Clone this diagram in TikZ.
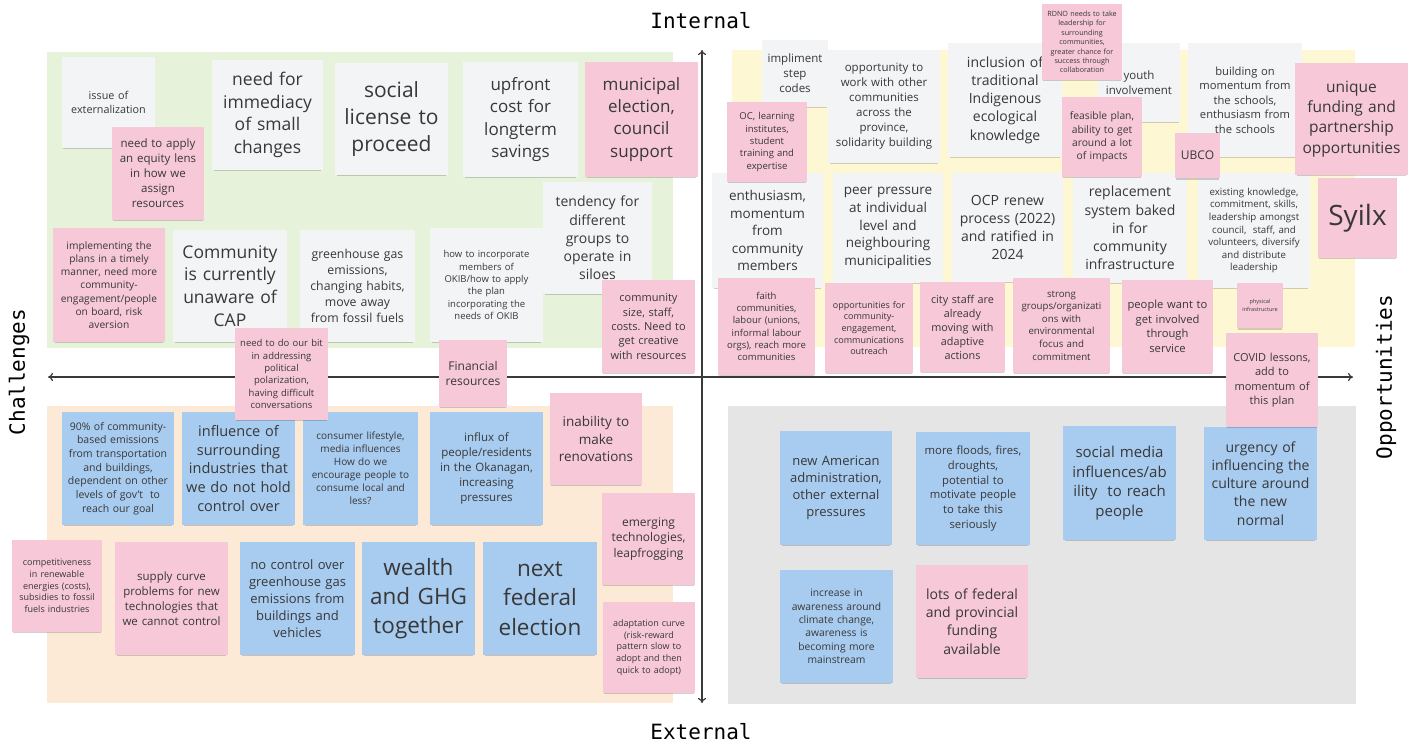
\documentclass[tikz,border=0pt]{standalone}
\usepackage{fontspec}
\setmainfont{Open Sans}
\newfontfamily\axisfont{DejaVu Sans Mono}
\usetikzlibrary{arrows.meta,shadows}
\frenchspacing
\definecolor{wnote}{HTML}{F3F4F6}
\definecolor{pnk}{HTML}{F7C8D8}
\definecolor{blu}{HTML}{A8CBF0}
\definecolor{bggreen}{HTML}{E6F2D9}
\definecolor{bgyellow}{HTML}{FDF8D3}
\definecolor{bgpeach}{HTML}{FCEAD7}
\definecolor{bggray}{HTML}{E5E5E5}
\definecolor{axc}{HTML}{3A3A3A}
\definecolor{txt}{HTML}{383838}
\tikzset{
  note/.style={rectangle, inner xsep=3pt, inner ysep=2pt, align=center, text=txt,
    drop shadow={shadow xshift=0pt, shadow yshift=-2.5pt, shadow scale=0.97, opacity=0.18, fill=black}},
  stk/.style n args={4}{note, fill=#1, minimum width=#2, minimum height=#3, text width=#2-6,
    font={\pgfmathsetmacro\bsk{#4*1.3}\fontsize{#4}{\bsk}\selectfont}},
  axisline/.style={draw=axc, line width=1.2pt, arrows={To[length=5pt,width=8pt]-To[length=5pt,width=8pt]}},
  axislabel/.style={font=\axisfont\fontsize{21}{24}\selectfont, text=black, inner sep=0pt},
}
\begin{document}
\begin{tikzpicture}[x=1pt,y=-1pt]
\useasboundingbox (0,0) rectangle (1420,747);
\fill[white] (0,0) rectangle (1420,747);
% quadrant backgrounds
\fill[bggreen] (47,52) rectangle (673,348);
\fill[bgyellow] (732,50) rectangle (1355,347);
\fill[bgpeach] (47,406) rectangle (673,703);
\fill[bggray] (728,406) rectangle (1356,704);
% axes
\coordinate (L) at (48,377);
\coordinate (R) at (1353,377);
\coordinate (T) at (702,50);
\coordinate (B) at (702,703);
\draw[axisline] (L) -- (R);
\draw[axisline] (B) -- (T);
\node[axislabel] (lint) at (701,21) {Internal};
\node[axislabel] (lext) at (701,732) {External};
\node[axislabel, rotate=90] (lch) at (19,372) {Challenges};
\node[axislabel, rotate=90] (lop) at (1386,377) {Opportunities};
% ---------- white notes ----------
\node[stk={wnote}{93}{91}{10.8}] (n1) at (108.5,102.5) {issue of\\externalization};
\node[stk={wnote}{111}{110}{17.5}] (n3) at (267.5,115) {need for\\immediacy\\of small\\changes};
\node[stk={wnote}{113}{112}{21}] (n4) at (391.5,119) {social\\license to\\proceed};
\node[stk={wnote}{115}{115}{17}] (n5) at (520.5,119.5) {upfront\\cost for\\longterm\\savings};
\node[stk={wnote}{109}{112}{14}] (n7) at (597.5,238) {tendency for\\different\\groups to\\operate in\\siloes};
\node[stk={wnote}{114}{112}{17.5}] (n10) at (230,286) {Community\\is currently\\unaware of\\CAP};
\node[stk={wnote}{115}{112}{12.3}] (n11) at (357.5,286) {greenhouse gas\\emissions,\\changing habits,\\move away\\from fossil fuels};
\node[stk={wnote}{113}{114}{9.5}] (n12) at (486.5,285) {how to incorporate\\members of\\OKIB/how to apply\\the plan\\incorporating the\\needs of OKIB};
\node[stk={wnote}{66}{67}{11.5}] (n27) at (795,73.5) {impliment\\step\\codes};
\node[stk={wnote}{112}{113}{11.5}] (n29) at (884,106.5) {opportunity to\\work with other\\communities\\across the\\province,\\solidarity building};
\node[stk={wnote}{114}{114}{14}] (n30) at (1005,100) {inclusion of\\traditional\\Indigenous\\ecological\\knowledge};
\node[stk={wnote}{82}{79}{11.5}] (n32) at (1139,82.5) {youth\\involvement};
\node[stk={wnote}{114}{114}{11.2}] (n34) at (1245,100) {building on\\momentum from\\the schools,\\enthusiasm from\\the schools};
\node[stk={wnote}{111}{115}{13.5}] (n38) at (767.5,230.5) {enthusiasm,\\momentum\\from\\community\\members};
\node[stk={wnote}{110}{110}{13.5}] (n39) at (888,228) {peer pressure\\at individual\\level and\\neighbouring\\municipalities};
\node[stk={wnote}{111}{109}{14}] (n40) at (1007.5,227.5) {OCP renew\\process (2022)\\and ratified in\\2024};
\node[stk={wnote}{114}{110}{14}] (n41) at (1130,228) {replacement\\system baked\\in for\\community\\infrastructure};
\node[stk={wnote}{112}{115}{9.7}] (n42) at (1254,230.5) {existing knowledge,\\commitment, skills,\\leadership amongst\\council,\ \ staff, and\\volunteers, diversify\\and distribute\\leadership};
% ---------- blue notes ----------
\node[stk={blu}{112}{113}{10.5}] (n15) at (118,468.5) {90\% of community-\\based emissions\\from transportation\\and buildings,\\dependent on other\\levels of gov't\ \ to\\reach our goal};
\node[stk={blu}{113}{113}{14.5}] (n16) at (238.5,468.5) {influence of\\surrounding\\industries that\\we do not hold\\control over};
\node[stk={blu}{115}{113}{10}] (n17) at (360.5,468.5) {consumer lifestyle,\\media influences\\How do we\\encourage people to\\consume local and\\less?};
\node[stk={blu}{113}{113}{11.5}] (n18) at (486.5,468.5) {influx of\\people/residents\\in the Okanagan,\\increasing\\pressures};
\node[stk={blu}{115}{113}{13}] (n24) at (297.5,598.5) {no control over\\greenhouse gas\\emissions from\\buildings and\\vehicles};
\node[stk={blu}{113}{113}{22.5}] (n25) at (418.5,598.5) {wealth\\and GHG\\together};
\node[stk={blu}{114}{113}{22.5}] (n26) at (540,598.5) {next\\federal\\election};
\node[stk={blu}{112}{114}{13}] (n50) at (836,488) {new American\\administration,\\other external\\pressures};
\node[stk={blu}{114}{113}{11.3}] (n51) at (973,488.5) {more floods, fires,\\droughts,\\potential to\\motivate people\\to take this\\seriously};
\node[stk={blu}{113}{114}{15}] (n52) at (1119.5,483) {social media\\influences/ab\\ility\ \ to reach\\people};
\node[stk={blu}{113}{113}{14}] (n53) at (1260.5,483.5) {urgency of\\influencing the\\culture around\\the new\\normal};
\node[stk={blu}{113}{113}{10.3}] (n54) at (836.5,626.5) {increase in\\awareness around\\climate change,\\awareness is\\becoming more\\mainstream};
% ---------- pink notes ----------
\node[stk={pnk}{92}{93}{11.5}] (n2) at (158,173.5) {need to apply\\an equity lens\\in how we\\assign\\resources};
\node[stk={pnk}{113}{115}{17}] (n6) at (641.5,119.5) {municipal\\election,\\council\\support};
\node[stk={pnk}{93}{93}{11}] (n8) at (648.5,326.5) {community\\size, staff,\\costs. Need to\\get creative\\with resources};
\node[stk={pnk}{112}{114}{10.2}] (n9) at (109,285) {implementing the\\plans in a timely\\manner, need more\\community-\\engagement/people\\on board, risk\\aversion};
\node[stk={pnk}{92}{92}{13.5}] (n19) at (596,439) {inability to\\make\\renovations};
\node[stk={pnk}{93}{92}{12}] (n20) at (648.5,539) {emerging\\technologies,\\leapfrogging};
\node[stk={pnk}{92}{91}{9}] (n21) at (649,647.5) {adaptation curve\\(risk-reward\\pattern slow to\\adopt and then\\quick to adopt)};
\node[stk={pnk}{90}{92}{9}] (n22) at (57,586) {competitiveness\\in renewable\\energies (costs),\\subsidies to fossil\\fuels industries};
\node[stk={pnk}{113}{113}{11.5}] (n23) at (171.5,598.5) {supply curve\\problems for new\\technologies that\\we cannot control};
\node[stk={pnk}{80}{80}{9.5}] (n28) at (767,142) {OC, learning\\institutes,\\student\\training and\\expertise};
\node[stk={pnk}{80}{76}{7.2}] (n31) at (1082,42) {RDNO needs to take\\leadership for\\surrounding\\communities,\\greater chance for\\success through\\collaboration};
\node[stk={pnk}{80}{80}{10.3}] (n33) at (1102,137) {feasible plan,\\ability to get\\around a lot\\of impacts};
\node[stk={pnk}{45}{45}{12}] (n35) at (1197.5,155.5) {UBCO};
\node[stk={pnk}{113}{112}{15.5}] (n36) at (1351.5,119) {unique\\funding and\\partnership\\opportunities};
\node[stk={pnk}{79}{80}{28}] (n37) at (1357.5,218) {Syilx};
\node[stk={pnk}{97}{97}{9.5}] (n43) at (766.5,326.5) {faith\\communities,\\labour (unions,\\informal labour\\orgs), reach more\\communities};
\node[stk={pnk}{88}{90}{9}] (n44) at (869,328) {opportunities for\\community-\\engagement,\\communications\\outreach};
\node[stk={pnk}{85}{90}{10.8}] (n45) at (962.5,327) {city staff are\\already\\moving with\\adaptive\\actions};
\node[stk={pnk}{97}{95}{9.7}] (n46) at (1061.5,325.5) {strong\\groups/organizati\\ons with\\environmental\\focus and\\commitment};
\node[stk={pnk}{91}{93}{11.2}] (n47) at (1167.5,326.5) {people want to\\get involved\\through\\service};
\node[stk={pnk}{46}{45}{5.5}] (n48) at (1260,305.5) {physical\\infrastructure};
\node[stk={pnk}{92}{94}{11}] (n49) at (1272,380) {COVID lessons,\\add to\\momentum of\\this plan};
\node[stk={pnk}{112}{113}{14}] (n55) at (972,621.5) {lots of federal\\and provincial\\funding\\available};
\node[stk={pnk}{93}{92}{9.5}] (n13) at (281.5,374) {need to do our bit\\in addressing\\political\\polarization,\\having difficult\\conversations};
\node[stk={pnk}{68}{67}{12}] (n14) at (473,373.5) {Financial\\resources};
\end{tikzpicture}
\end{document}
